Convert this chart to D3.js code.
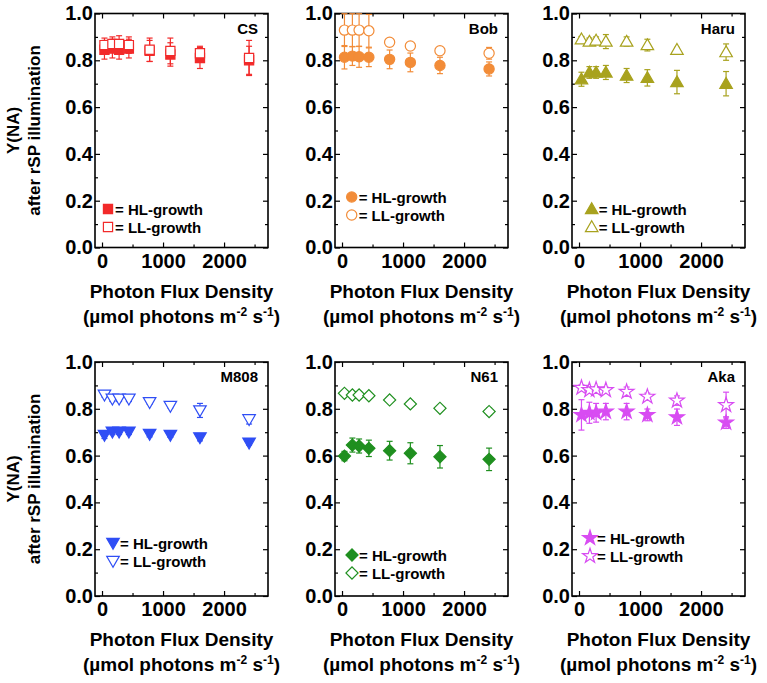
<!DOCTYPE html>
<html>
<head>
<meta charset="utf-8">
<script src="https://cdn.jsdelivr.net/npm/d3@7"></script>
<style>
  html, body { margin: 0; padding: 0; background: #fff; }
  svg { display: block; font-family: "Liberation Sans", Arial, sans-serif; font-weight: bold; }
</style>
</head>
<body>
<svg id="chart" width="767" height="683"></svg>
<script>
// ---------------- DATA ----------------
const pfd = [40, 170, 280, 440, 780, 1120, 1605, 2410];   // µmol photons m-2 s-1
const strains = ["CS", "Bob", "Haru", "M808", "N61", "Aka"];
const colors = ["#f22a2a", "#f28c38", "#a8a21e", "#2f4ef5", "#1f8f1f", "#d84cf2"];
const symbolsHL = ["square", "circle", "triangleUp", "triangleDown", "diamond", "star"];

const csHL    = [0.845, 0.850, 0.845, 0.850, 0.840, 0.825, 0.810, 0.800];
const csHLerr = [0.040, 0.040, 0.040, 0.040, 0.045, 0.050, 0.045, 0.060];
const csLL    = [0.865, 0.870, 0.870, 0.865, 0.845, 0.840, 0.830, 0.810];
const csLLerr = [0.030, 0.030, 0.035, 0.035, 0.050, 0.055, 0.030, 0.075];

const bobHL    = [0.813, 0.818, 0.815, 0.813, 0.804, 0.791, 0.778, 0.763];
const bobHLerr = [0.050, 0.040, 0.045, 0.040, 0.040, 0.040, 0.035, 0.030];
const bobLL    = [0.929, 0.929, 0.929, 0.926, 0.877, 0.861, 0.841, 0.830];
const bobLLerr = [0.070, 0.070, 0.070, 0.070, 0.015, 0.012, 0.012, 0.025];

const haruHL    = [0.719, 0.748, 0.748, 0.748, 0.735, 0.725, 0.707, 0.700];
const haruHLerr = [0.030, 0.025, 0.025, 0.030, 0.030, 0.035, 0.050, 0.052];
const haruLL    = [0.890, 0.880, 0.885, 0.880, 0.880, 0.865, 0.845, 0.835];
const haruLLerr = [0.012, 0.015, 0.015, 0.030, 0.020, 0.025, 0.010, 0.035];

const m808HL    = [0.688, 0.702, 0.702, 0.702, 0.692, 0.688, 0.678, 0.655];
const m808HLerr = [0.015, 0.012, 0.012, 0.012, 0.012, 0.010, 0.015, 0.010];
const m808LL    = [0.860, 0.843, 0.843, 0.843, 0.828, 0.812, 0.793, 0.755];
const m808LLerr = [0.010, 0.012, 0.012, 0.012, 0.008, 0.008, 0.030, 0.020];

const n61HL    = [0.598, 0.645, 0.641, 0.631, 0.621, 0.610, 0.595, 0.584];
const n61HLerr = [0.020, 0.030, 0.030, 0.035, 0.040, 0.045, 0.048, 0.048];
const n61LL    = [0.866, 0.859, 0.859, 0.856, 0.838, 0.821, 0.802, 0.788];
const n61LLerr = [0.010, 0.015, 0.015, 0.012, 0.008, 0.008, 0.008, 0.015];

const akaHL    = [0.774, 0.783, 0.783, 0.788, 0.788, 0.774, 0.764, 0.741];
const akaHLerr = [0.065, 0.045, 0.040, 0.035, 0.035, 0.025, 0.035, 0.025];
const akaLL    = [0.890, 0.880, 0.883, 0.880, 0.873, 0.852, 0.835, 0.816];
const akaLLerr = [0.012, 0.012, 0.012, 0.012, 0.020, 0.015, 0.020, 0.055];

const hlValues = [csHL, bobHL, haruHL, m808HL, n61HL, akaHL];
const hlErrors = [csHLerr, bobHLerr, haruHLerr, m808HLerr, n61HLerr, akaHLerr];
const llValues = [csLL, bobLL, haruLL, m808LL, n61LL, akaLL];
const llErrors = [csLLerr, bobLLerr, haruLLerr, m808LLerr, n61LLerr, akaLLerr];

const xMajorTicks = [0, 1000, 2000];
const xMinorTicks = [500, 1500, 2500];
const yMajorTicks = [0, 0.2, 0.4, 0.6, 0.8, 1.0];
const yMinorTicks = [0.1, 0.3, 0.5, 0.7, 0.9];
const legendLabels = ["= HL-growth", "= LL-growth"];

// ---------------- LAYOUT ----------------
const svg = d3.select("#chart");
const panelLeft = [95, 335, 572];
const panelTop = [13.5, 362];
const W = 173, H = 234;
const legendPos = [ // [markerX, hlY] relative to panel
  [13, 195.5], [16.7, 183.5], [19.7, 195.5],
  [18, 181], [17, 193], [18, 176]
];

const symbolMap = {
  square: d3.symbolSquare, circle: d3.symbolCircle,
  triangleUp: d3.symbolTriangle, triangleDown: d3.symbolTriangle,
  diamond: d3.symbolSquare, star: d3.symbolStar
};
const sizeMap = { square: 84, circle: 82, triangleUp: 68, triangleDown: 68, diamond: 74, star: 68 };
const rotMap = { square: 0, circle: 0, triangleUp: 0, triangleDown: 180, diamond: 45, star: 0 };

function drawSymbol(g, type, cx, cy, color, filled) {
  g.append("path")
    .attr("d", d3.symbol(symbolMap[type], sizeMap[type])())
    .attr("transform", `translate(${cx},${cy}) rotate(${rotMap[type]})` + (type.startsWith("triangle") ? " translate(0,1)" : ""))
    .attr("fill", filled ? color : "#fff")
    .attr("stroke", color)
    .attr("stroke-width", 1.2);
}

const x = d3.scaleLinear().domain([-115, 2720]).range([0, W]);
const y = d3.scaleLinear().domain([0, 1]).range([H, 0]);

strains.forEach((name, i) => {
  const col = i % 3, row = Math.floor(i / 3);
  const g = svg.append("g").attr("transform", `translate(${panelLeft[col]},${panelTop[row]})`);
  const color = colors[i];
  const type = symbolsHL[i];

  // axes (inward ticks)
  const xb = g.append("g").attr("transform", `translate(0,${H})`)
    .call(d3.axisBottom(x).tickValues(xMajorTicks).tickSize(-5).tickPadding(6).tickFormat(d3.format("d")));
  const xbm = g.append("g").attr("transform", `translate(0,${H})`)
    .call(d3.axisBottom(x).tickValues(xMinorTicks).tickSize(-3).tickFormat(""));
  const xt = g.append("g").call(d3.axisTop(x).tickValues(xMajorTicks).tickSize(-5).tickFormat(""));
  const xtm = g.append("g").call(d3.axisTop(x).tickValues(xMinorTicks).tickSize(-3).tickFormat(""));
  const yl = g.append("g").call(d3.axisLeft(y).tickValues(yMajorTicks).tickSize(-5).tickPadding(2).tickFormat(d3.format(".1f")));
  const ylm = g.append("g").call(d3.axisLeft(y).tickValues(yMinorTicks).tickSize(-3).tickFormat(""));
  const yr = g.append("g").attr("transform", `translate(${W},0)`).call(d3.axisRight(y).tickValues(yMajorTicks).tickSize(-5).tickFormat(""));
  const yrm = g.append("g").attr("transform", `translate(${W},0)`).call(d3.axisRight(y).tickValues(yMinorTicks).tickSize(-3).tickFormat(""));
  [xb, xbm, xt, xtm, yl, ylm, yr, yrm].forEach(a => {
    a.select(".domain").remove();
    a.selectAll("line").attr("stroke", "#000").attr("stroke-width", 1.2);
    a.selectAll("text").attr("font-family", "Liberation Sans, Arial, sans-serif")
      .attr("font-weight", "bold").attr("font-size", 20).attr("fill", "#000");
  });

  // frame
  g.append("rect").attr("x", 0).attr("y", 0).attr("width", W).attr("height", H)
    .attr("fill", "none").attr("stroke", "#000").attr("stroke-width", 1.6);

  // strain label
  g.append("text").attr("x", W - 10).attr("y", 20).attr("text-anchor", "end")
    .attr("font-size", 15).text(name);

  // data series
  const plot = g.append("g");
  function series(vals, errs, filled) {
    const eg = plot.append("g").attr("stroke", color).attr("stroke-width", 1.2);
    pfd.forEach((p, k) => {
      const cx = x(p);
      const top = Math.min(1, vals[k] + errs[k]);
      const bot = vals[k] - errs[k];
      eg.append("line").attr("x1", cx).attr("x2", cx).attr("y1", y(top)).attr("y2", y(bot));
      if (vals[k] + errs[k] <= 1) eg.append("line").attr("x1", cx - 3).attr("x2", cx + 3).attr("y1", y(top)).attr("y2", y(top));
      eg.append("line").attr("x1", cx - 3).attr("x2", cx + 3).attr("y1", y(bot)).attr("y2", y(bot));
    });
    const mg = plot.append("g");
    pfd.forEach((p, k) => drawSymbol(mg, type, x(p), y(vals[k]), color, filled));
  }
  series(hlValues[i], hlErrors[i], true);
  series(llValues[i], llErrors[i], false);

  // legend
  const [lx, ly] = legendPos[i];
  legendLabels.forEach((lab, k) => {
    const yy = ly + k * 18;
    drawSymbol(g, type, lx, yy, color, k === 0);
    g.append("text").attr("x", lx + 7).attr("y", yy + 5.5).attr("font-size", 15).text(lab);
  });

  // x axis title
  const t1 = g.append("text").attr("x", W / 2).attr("y", H + 50).attr("text-anchor", "middle")
    .attr("font-size", 19).text("Photon Flux Density");
  const t2 = g.append("text").attr("x", W / 2).attr("y", H + 75).attr("text-anchor", "middle")
    .attr("font-size", 19);
  t2.append("tspan").text("(µmol photons m");
  t2.append("tspan").attr("font-size", 12).attr("dy", -7).text("-2");
  t2.append("tspan").attr("dy", 7).text(" s");
  t2.append("tspan").attr("font-size", 12).attr("dy", -7).text("-1");
  t2.append("tspan").attr("dy", 7).text(")");
});

// y axis titles
panelTop.forEach(top => {
  const cy = top + H / 2;
  svg.append("text").attr("transform", `translate(19,${cy}) rotate(-90)`).attr("text-anchor", "middle")
    .attr("font-size", 17).text("Y(NA)");
  svg.append("text").attr("transform", `translate(40,${cy}) rotate(-90)`).attr("text-anchor", "middle")
    .attr("font-size", 17).text("after rSP illumination");
});
</script>
</body>
</html>
